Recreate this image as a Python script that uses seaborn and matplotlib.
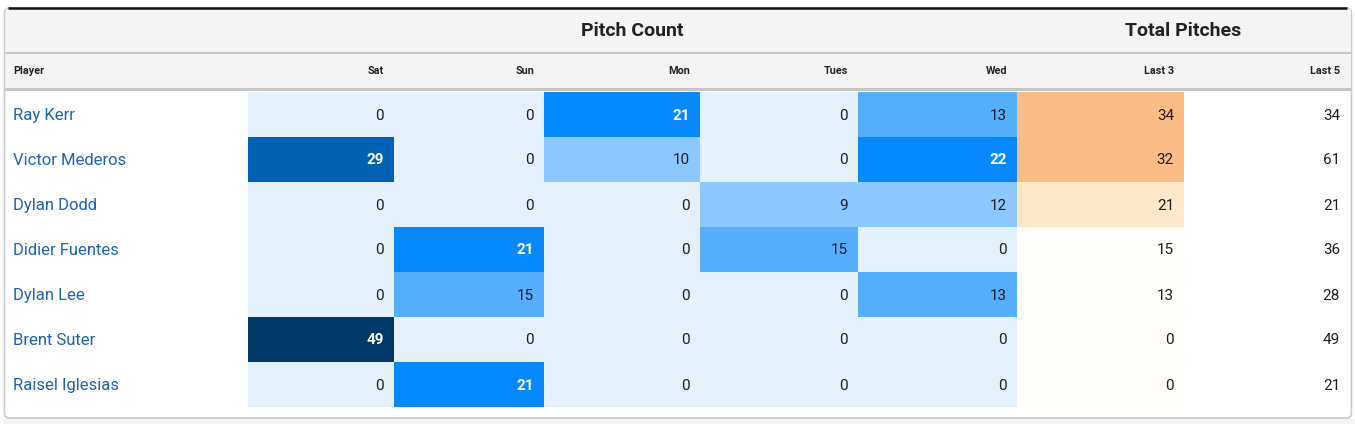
import numpy as np
import pandas as pd
import matplotlib
matplotlib.use("Agg")
import matplotlib.pyplot as plt
import matplotlib.transforms as mtrans
from matplotlib.colors import ListedColormap, BoundaryNorm
from matplotlib.patches import FancyBboxPatch, Rectangle
import seaborn as sns

# ---- data ----
players = ["Ray Kerr", "Victor Mederos", "Dylan Dodd", "Didier Fuentes",
           "Dylan Lee", "Brent Suter", "Raisel Iglesias"]
days = ["Sat", "Sun", "Mon", "Tues", "Wed"]
sat = [0, 29, 0, 0, 0, 49, 0]
sun = [0, 0, 0, 21, 15, 0, 21]
mon = [21, 10, 0, 0, 0, 0, 0]
tues = [0, 0, 9, 15, 0, 0, 0]
wed = [13, 22, 12, 0, 13, 0, 0]
last3 = [34, 32, 21, 15, 13, 0, 0]
last5 = [34, 61, 21, 36, 28, 49, 21]

W, H = 1355, 424
sns.set_theme(style="white")
plt.rcParams["font.family"] = ["Roboto", "DejaVu Sans"]

pitch_df = pd.DataFrame({"Sat": sat, "Sun": sun, "Mon": mon, "Tues": tues, "Wed": wed},
                        index=players)
total_df = pd.DataFrame({"Last 3": last3, "Last 5": last5}, index=players)

# binned colour scales
pc_cmap = ListedColormap(["#e4f0fc", "#8cc8fe", "#55affe", "#0789fe", "#0061b4", "#003968"])
pc_norm = BoundaryNorm([-0.5, 0.5, 12.5, 20.5, 25.5, 40.5, 100], pc_cmap.N)
l3_cmap = ListedColormap(["#fffdfa", "#fee7c9", "#fbbb84"])
l3_norm = BoundaryNorm([-0.5, 19.5, 29.5, 200], l3_cmap.N)
l5_cmap = ListedColormap(["#ffffff"])

fig = plt.figure(figsize=(W / 100, H / 100), dpi=100)
fig.patch.set_facecolor("white")

bg = fig.add_axes([0, 0, 1, 1])
bg.set_xlim(0, W)
bg.set_ylim(H, 0)
bg.axis("off")

# outer card
bg.add_patch(Rectangle((4, 419), W - 4, 6, facecolor="#f4f4f4", edgecolor="none"))
bg.add_patch(FancyBboxPatch((4.5, 8), W - 8, 410, boxstyle="round,pad=0,rounding_size=5",
                            facecolor="white", edgecolor="#c9c9c9", lw=1.2))
bg.add_patch(Rectangle((5.5, 9), W - 10, 80, facecolor="#f4f4f4", edgecolor="none"))
bg.plot([8, W - 8], [8.2, 8.2], color="#111111", lw=1.8, solid_capstyle="butt")
bg.plot([5.5, W - 5], [53, 53], color="#c6c6c6", lw=1.5)
bg.plot([5.5, W - 5], [89, 89], color="#c6c6c6", lw=2.2)

# column edges (pixels)
edges = [248, 394, 544, 700, 858, 1017, 1184, 1350]
top, bottom = 91.5, 406.5


def px_axes(x0, x1):
    return fig.add_axes([x0 / W, 1 - bottom / H, (x1 - x0) / W, (bottom - top) / H])


def draw_col(frame, col, x0, x1, cmap, norm, light_cut=None):
    ax = px_axes(x0, x1)
    sns.heatmap(frame[[col]], ax=ax, cmap=cmap, norm=norm, cbar=False,
                xticklabels=False, yticklabels=False, linewidths=0)
    ax.set_xlabel("")
    ax.set_ylabel("")
    off = mtrans.offset_copy(ax.transData, fig=fig, x=-10, y=0, units="dots")
    for i, v in enumerate(frame[col]):
        white = light_cut is not None and v >= light_cut
        ax.text(1, i + 0.5, str(v), transform=off, ha="right", va="center_baseline",
                fontsize=11, color="white" if white else "#1e1e1e",
                fontweight="bold" if white else "normal")
    return ax


axes = []
for k, d in enumerate(days):
    axes.append(draw_col(pitch_df, d, edges[k], edges[k + 1], pc_cmap, pc_norm, light_cut=21))
draw_col(total_df, "Last 3", edges[5], edges[6], l3_cmap, l3_norm)
draw_col(total_df, "Last 5", edges[6], edges[7], l5_cmap, None)

# player names
name_tr = mtrans.blended_transform_factory(bg.transData, axes[0].transData)
for i, p in enumerate(players):
    axes[0].text(13, i + 0.5, p, transform=name_tr, ha="left", va="center_baseline",
                 fontsize=12, color="#1a63b5", clip_on=False)

# headers
bg.text((edges[0] + edges[5]) / 2, 31, "Pitch Count", ha="center", va="center",
        fontsize=14, fontweight="bold", color="#222222")
bg.text((edges[5] + edges[7]) / 2, 31, "Total Pitches", ha="center", va="center",
        fontsize=14, fontweight="bold", color="#222222")
bg.text(13, 71, "Player", ha="left", va="center", fontsize=7.8, fontweight="bold", color="#222222")
for k, lab in enumerate(days + ["Last 3", "Last 5"]):
    bg.text(edges[k + 1] - 10, 71, lab, ha="right", va="center", fontsize=7.8,
            fontweight="bold", color="#222222")

fig.savefig("out.png", dpi=100)
